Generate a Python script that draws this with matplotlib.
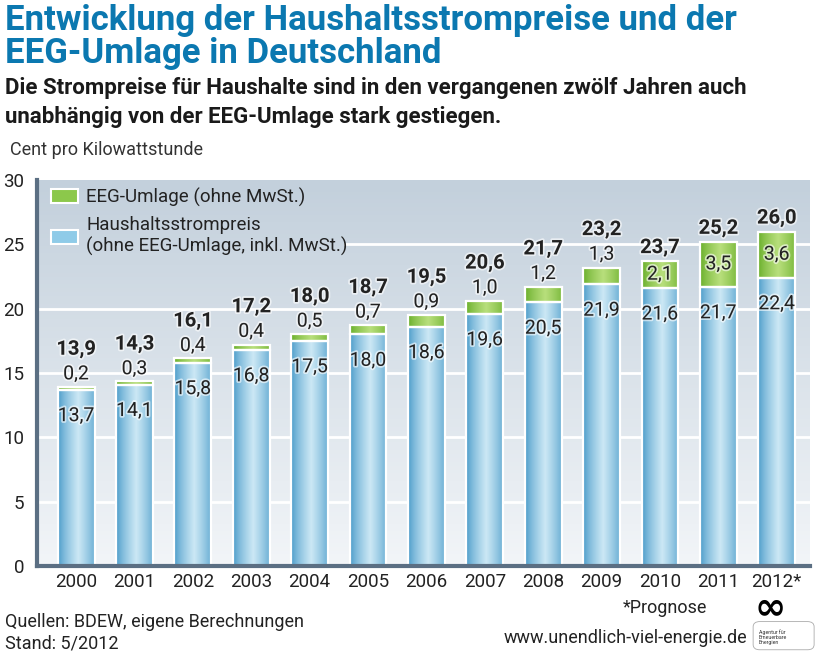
#!/usr/bin/env python3
"""Haushaltsstrompreise und EEG-Umlage in Deutschland 2000-2012 (gestapelte Balken)."""

import numpy as np
import matplotlib
matplotlib.use("Agg")
import matplotlib.pyplot as plt
import matplotlib.patheffects as pe
from matplotlib.patches import Patch, FancyBboxPatch

# Daten (Cent/kWh)
jahre = ["2000", "2001", "2002", "2003", "2004", "2005", "2006",
         "2007", "2008", "2009", "2010", "2011", "2012*"]
strompreis = [13.7, 14.1, 15.8, 16.8, 17.5, 18.0, 18.6, 19.6, 20.5, 21.9, 21.6, 21.7, 22.4]
eeg_umlage = [0.2, 0.3, 0.4, 0.4, 0.5, 0.7, 0.9, 1.0, 1.2, 1.3, 2.1, 3.5, 3.6]
gesamt = [13.9, 14.3, 16.1, 17.2, 18.0, 18.7, 19.5, 20.6, 21.7, 23.2, 23.7, 25.2, 26.0]
y_ticks = [0, 5, 10, 15, 20, 25, 30]

plt.rcParams["font.family"] = ["Roboto", "DejaVu Sans"]

TITEL_BLAU = "#0b78b0"
ACHSE = "#5b6f83"


def fmt(v):
    return f"{v:.1f}".replace(".", ",")


def gradient_fill(ax, rect, c_edge, c_mid):
    """Horizontaler Verlauf (Rand dunkler, Mitte heller) im Balken."""
    x, y, w, h = rect.get_x(), rect.get_y(), rect.get_width(), rect.get_height()
    t = np.linspace(-1, 1, 64)
    mix = np.clip(1 - np.abs(t - 0.1), 0, 1) ** 0.8
    e = np.array(matplotlib.colors.to_rgb(c_edge))
    m = np.array(matplotlib.colors.to_rgb(c_mid))
    img = e[None, :] * (1 - mix[:, None]) + m[None, :] * mix[:, None]
    ax.imshow(img[None, :, :], extent=(x, x + w, y, y + h), aspect="auto",
              interpolation="bilinear", zorder=2)


fig = plt.figure(figsize=(8.24, 6.55), dpi=100)
ax = fig.add_axes([0.0449, 0.1359, 0.983 - 0.0449, 0.725 - 0.1359])

# Hintergrund mit vertikalem Verlauf
bg = np.linspace(0, 1, 100)[:, None, None]
top_c = np.array(matplotlib.colors.to_rgb("#c3d0dc"))
bot_c = np.array(matplotlib.colors.to_rgb("#f2f5f8"))
bg_img = top_c * (1 - bg) + bot_c * bg
ax.imshow(bg_img[::-1], extent=(-0.67, 12.57, 0, 30), aspect="auto", zorder=0,
          origin="lower")

x = np.arange(len(jahre))
breite = 0.63
b1 = ax.bar(x, strompreis, breite, facecolor="none", edgecolor="white", lw=1.6, zorder=3)
b2 = ax.bar(x, eeg_umlage, breite, bottom=strompreis, facecolor="none",
            edgecolor="white", lw=1.6, zorder=3)
for r in b1:
    gradient_fill(ax, r, "#5aa5cf", "#cce8f5")
for r in b2:
    gradient_fill(ax, r, "#72b434", "#b8df7c")

for v in y_ticks[1:-1]:
    # Linie bei 25 beginnt erst rechts von der Legende
    ax.axhline(v, xmin=0.398 if v == 25 else 0, color="white", lw=2, zorder=1)

halo = [pe.withStroke(linewidth=2.5, foreground="white", alpha=0.6)]
for i in range(len(jahre)):
    ax.text(x[i], strompreis[i] - 2.05, fmt(strompreis[i]), ha="center", va="center",
            fontsize=14, color="#222222", zorder=5, path_effects=halo)
    if eeg_umlage[i] >= 2:
        ax.text(x[i], strompreis[i] + eeg_umlage[i] / 2, fmt(eeg_umlage[i]),
                ha="center", va="center", fontsize=14, color="#222222", zorder=5,
                path_effects=halo)
        y_tot = gesamt[i] + 1.05
    else:
        ax.text(x[i], gesamt[i] + 1.0, fmt(eeg_umlage[i]), ha="center", va="center",
                fontsize=14, color="#222222", zorder=5, path_effects=halo)
        y_tot = gesamt[i] + 2.95
    ax.text(x[i], y_tot, fmt(gesamt[i]), ha="center", va="center", fontsize=14.5,
            fontweight="bold", color="#222222", zorder=5, path_effects=halo)

ax.set_xlim(-0.67, 12.57)
ax.set_ylim(0, 30)
ax.set_yticks(y_ticks)
ax.set_xticks(x)
ax.set_xticklabels(jahre)
ax.tick_params(axis="both", length=0, labelsize=13.5, colors="#222222")
ax.tick_params(axis="y", pad=9)
ax.tick_params(axis="x", pad=5)
for s in ["top", "right"]:
    ax.spines[s].set_visible(False)
for s in ["left", "bottom"]:
    ax.spines[s].set_color(ACHSE)
    ax.spines[s].set_linewidth(3)
    ax.spines[s].set_zorder(6)

handles = [Patch(facecolor="#8cc84b", edgecolor="white", lw=1.5),
           Patch(facecolor="#8fcbe8", edgecolor="white", lw=1.5)]
leg = ax.legend(handles, ["EEG-Umlage (ohne MwSt.)",
                          "Haushaltsstrompreis\n(ohne EEG-Umlage, inkl. MwSt.)"],
                loc="upper left", bbox_to_anchor=(0.008, 1.0), fontsize=13.5,
                frameon=False, handlelength=1.45, handleheight=0.75,
                labelspacing=0.5, borderaxespad=0.2, borderpad=0.2,
                handletextpad=0.45)
leg.set_zorder(7)
for t in leg.get_texts():
    t.set_color("#222222")

# Texte
fig.text(0.006, 0.954, "Entwicklung der Haushaltsstrompreise und der",
         fontsize=25, fontweight="bold", color=TITEL_BLAU, va="baseline", ha="left")
fig.text(0.006, 0.904, "EEG-Umlage in Deutschland",
         fontsize=25, fontweight="bold", color=TITEL_BLAU, va="baseline", ha="left")
fig.text(0.006, 0.856, "Die Strompreise für Haushalte sind in den vergangenen zwölf Jahren auch",
         fontsize=16, fontweight="bold", color="#1a1a1a", va="baseline", ha="left")
fig.text(0.006, 0.812, "unabhängig von der EEG-Umlage stark gestiegen.",
         fontsize=16, fontweight="bold", color="#1a1a1a", va="baseline", ha="left")
fig.text(0.012, 0.771, "Cent pro Kilowattstunde", fontsize=13, color="#333333",
         va="center", ha="left")
fig.text(0.006, 0.050, "Quellen: BDEW, eigene Berechnungen",
         fontsize=13, color="#222222", va="center", ha="left")
fig.text(0.006, 0.018, "Stand: 5/2012",
         fontsize=13, color="#222222", va="center", ha="left")
fig.text(0.807, 0.072, "*Prognose", fontsize=13, color="#222222", ha="center", va="center")
fig.text(0.907, 0.026, "www.unendlich-viel-energie.de", fontsize=13, color="#222222",
         ha="right", va="center")

# Logo
fig.text(0.935, 0.071, "∞", fontsize=27, fontweight="bold", color="black",
         ha="center", va="center", family="DejaVu Sans")
fig.text(0.921, 0.028, "Agentur für\nErneuerbare\nEnergien", fontsize=3.8, color="#333333",
         ha="left", va="center", linespacing=1.0)
fig.patches.append(FancyBboxPatch((0.914, 0.008), 0.074, 0.043,
                                  boxstyle="round,pad=0,rounding_size=0.008",
                                  transform=fig.transFigure, facecolor="none",
                                  edgecolor="#aaaaaa", lw=0.6))

fig.savefig("out.png", dpi=100)
